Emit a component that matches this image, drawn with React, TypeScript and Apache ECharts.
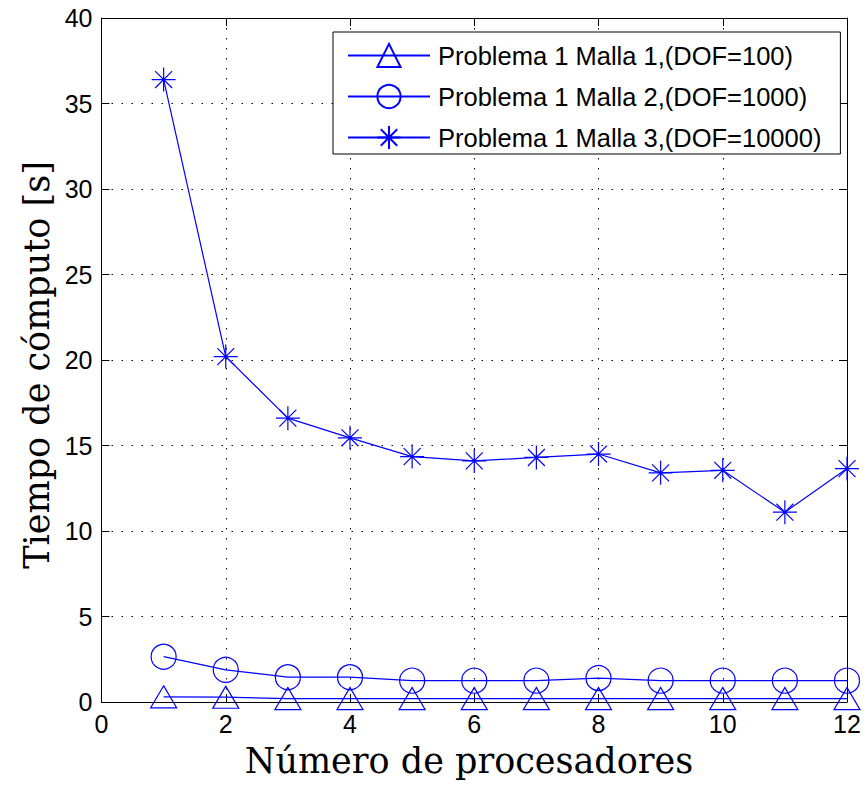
import React, { useEffect, useRef } from "react";
import * as echarts from "echarts";

const processors = [1, 2, 3, 4, 5, 6, 7, 8, 9, 10, 11, 12];
const malla1 = [0.3, 0.28, 0.2, 0.2, 0.2, 0.2, 0.2, 0.2, 0.2, 0.2, 0.2, 0.2];
const malla2 = [2.65, 1.88, 1.45, 1.45, 1.25, 1.25, 1.25, 1.4, 1.25, 1.25, 1.25, 1.25];
const malla3 = [36.4, 20.2, 16.6, 15.45, 14.35, 14.1, 14.3, 14.5, 13.4, 13.55, 11.1, 13.65];
const seriesNames = [
  "Problema 1 Malla 1,(DOF=100)",
  "Problema 1 Malla 2,(DOF=1000)",
  "Problema 1 Malla 3,(DOF=10000)",
];
const xTitle = "Número de procesadores";
const yTitle = "Tiempo de cómputo [s]";

const BLUE = "#0000ff";
const STAR = "path://M0,-10 L0,10 M-10,0 L10,0 M-7.07,-7.07 L7.07,7.07 M-7.07,7.07 L7.07,-7.07";

export default function App() {
  const ref = useRef<HTMLDivElement>(null);
  useEffect(() => {
    if (!ref.current) return;
    const chart = echarts.init(ref.current, null, { renderer: "svg" });
    const pair = (ys: number[]) => processors.map((x, i) => [x, ys[i]]);
    const tickFont = { fontFamily: "Liberation Sans, Arial, sans-serif", fontSize: 25, color: "#000" };
    const grid = { left: 101.5, top: 18, width: 745.5, height: 684 };
    const splitLine = { show: true, lineStyle: { color: "#000", width: 1, type: [1.5, 8.5] } };
    const axisLine = { show: true, onZero: false, lineStyle: { color: "#000", width: 1 } };
    const axisTick = { show: true, inside: true, length: 8, lineStyle: { color: "#000", width: 1 } };
    const mkSeries = (name: string, ys: number[], symbol: string, size: any, z: number) => ({
      name,
      type: "line",
      data: pair(ys),
      symbol,
      symbolSize: size,
      showAllSymbol: true,
      z,
      lineStyle: { color: BLUE, width: 1.2 },
      itemStyle: { color: "rgba(255,255,255,0)", borderColor: BLUE, borderWidth: 1.2 },
      emphasis: { disabled: true },
    });
    chart.setOption({
      animation: false,
      backgroundColor: "#fff",
      grid,
      xAxis: [
        {
          type: "value", min: 0, max: 12, interval: 2,
          axisLine, axisTick, splitLine,
          axisLabel: { ...tickFont, margin: 9 },
        },
        {
          type: "value", min: 0, max: 12, interval: 2, position: "top",
          axisLine, axisTick, splitLine: { show: false }, axisLabel: { show: false },
        },
      ],
      yAxis: [
        {
          type: "value", min: 0, max: 40, interval: 5,
          axisLine, axisTick, splitLine,
          axisLabel: { ...tickFont, margin: 9 },
        },
        {
          type: "value", min: 0, max: 40, interval: 5, position: "right",
          axisLine, axisTick, splitLine: { show: false }, axisLabel: { show: false },
        },
      ],
      legend: {
        show: true,
        left: 333,
        top: 32,
        orient: "vertical",
        backgroundColor: "#fff",
        borderColor: "#000",
        borderWidth: 1,
        borderRadius: 0,
        padding: [9, 19, 2, 14],
        itemWidth: 82,
        itemHeight: 29,
        itemGap: 12,
        textStyle: { fontFamily: "Liberation Sans, Arial, sans-serif", fontSize: 25.5, color: "#000", lineHeight: 29, padding: [0, 0, 0, 3] },
        data: seriesNames,
        selectedMode: false,
        z: 10,
      },
      series: [
        mkSeries(seriesNames[0], malla1, "triangle", [26, 22], 3),
        mkSeries(seriesNames[1], malla2, "circle", 25, 4),
        mkSeries(seriesNames[2], malla3, STAR, 24, 5),
      ],
      graphic: [
        {
          type: "text", x: 469, y: 761,
          style: { text: xTitle, fontFamily: "DejaVu Serif", fontSize: 35, fill: "#000", align: "center", verticalAlign: "middle" },
        },
        {
          type: "text", x: 37, y: 365, rotation: Math.PI / 2,
          style: { text: yTitle, fontFamily: "DejaVu Serif", fontSize: 35, fill: "#000", align: "center", verticalAlign: "middle" },
        },
      ],
    });
    return () => chart.dispose();
  }, []);
  return (
    <div
      ref={ref}
      style={{ position: "fixed", left: 0, top: 0, width: 866, height: 795, background: "#fff" }}
    />
  );
}
